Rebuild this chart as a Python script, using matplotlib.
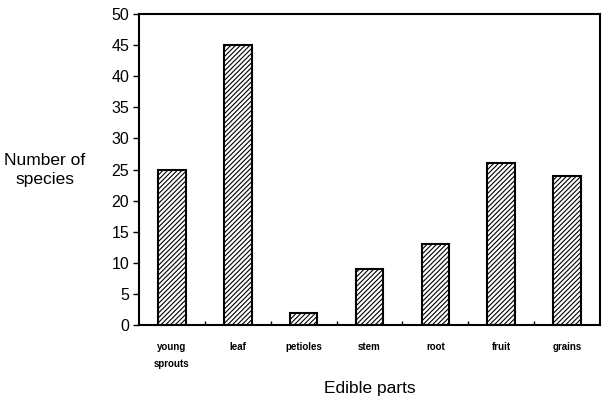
import numpy as np
import matplotlib.pyplot as plt

plt.rcParams['font.family'] = ['Liberation Sans', 'DejaVu Sans']
plt.rcParams['hatch.linewidth'] = 0.8

categories = ['young\nsprouts', 'leaf', 'petioles', 'stem', 'root', 'fruit', 'grains']
species = [25, 45, 2, 9, 13, 26, 24]

fig = plt.figure(figsize=(6.06, 4.04), dpi=100)
ax = fig.add_axes([139/606, 1-325/404, 461/606, 311/404])

x = np.arange(len(categories))
ax.bar(x, species, width=0.42, facecolor='white', edgecolor='black',
       linewidth=1.5, hatch='///////')

ax.set_xlim(-0.5, len(categories) - 0.5)
ax.set_ylim(0, 50)
ax.set_yticks(np.arange(0, 51, 5))
ax.tick_params(axis='y', labelsize=11.5, direction='out', length=4, width=1, pad=3)

ax.set_xticks(x)
ax.set_xticklabels(categories, fontsize=7, fontweight='bold', va='top', linespacing=1.9)
ax.tick_params(axis='x', length=0, pad=12)
# small marks between categories
ax.set_xticks(x[:-1] + 0.5, minor=True)
ax.tick_params(axis='x', which='minor', direction='in', length=3, width=1)

for s in ax.spines.values():
    s.set_linewidth(1.5)

fig.text(45/606, 1-170/404, 'Number of\nspecies', ha='center', va='center',
         fontsize=12.5, linespacing=1.3)
fig.text(370/606, 1-388/404, 'Edible parts', ha='center', va='center',
         fontsize=12.5)

fig.savefig('out.png', dpi=100)
